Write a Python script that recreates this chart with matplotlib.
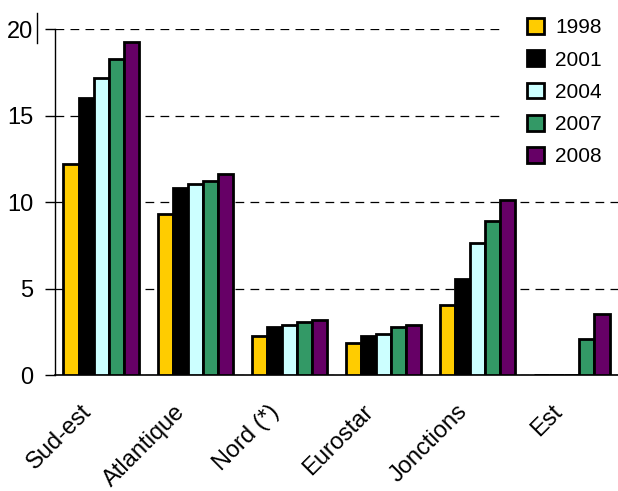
import matplotlib
matplotlib.use("Agg")
import matplotlib.pyplot as plt
import matplotlib.transforms as mtransforms
from matplotlib.lines import Line2D
from matplotlib.patches import Rectangle
import numpy as np

categories = ["Sud-est", "Atlantique", "Nord (*)", "Eurostar", "Jonctions", "Est"]
years = ["1998", "2001", "2004", "2007", "2008"]
values = {
    "1998": [12.2, 9.3, 2.25, 1.85, 4.05, 0.0],
    "2001": [16.0, 10.8, 2.8, 2.25, 5.55, 0.0],
    "2004": [17.2, 11.05, 2.9, 2.35, 7.65, 0.0],
    "2007": [18.3, 11.25, 3.05, 2.75, 8.9, 2.1],
    "2008": [19.25, 11.65, 3.2, 2.9, 10.1, 3.55],
}
colors = ["#FFCC00", "#000000", "#CCFFFF", "#339966", "#660066"]
yticks = [0, 5, 10, 15, 20]

plt.rcParams["font.family"] = ["Liberation Sans", "DejaVu Sans"]

fig = plt.figure(figsize=(6.18, 4.91), dpi=100)
ax = fig.add_axes([55 / 618, 1 - 375 / 491, 1 - 55 / 618, (375 - 29.3) / 491])

x = np.arange(len(categories))
w = 0.16
for i, (yr, c) in enumerate(zip(years, colors)):
    vals = values[yr]
    ax.bar(x + (i - 2) * w, vals, width=w, color=c, edgecolor="black",
           linewidth=2.0, label=yr, zorder=3)

ax.set_xlim(-0.49, 5.49)
ax.set_ylim(0, 20)
ax.set_yticks(yticks)
ax.set_yticklabels([str(t) for t in yticks], fontsize=17)
ax.tick_params(axis="y", length=7, width=1, pad=8.5, direction="out")
ax.tick_params(axis="x", length=0, pad=4)
ax.set_xticks(x)
ax.set_xticklabels(categories, fontsize=17, rotation=45, ha="right",
                   rotation_mode="anchor")
offset = mtransforms.ScaledTranslation(-21 / 100, -20 / 100, fig.dpi_scale_trans)
for lbl in ax.get_xticklabels():
    lbl.set_transform(lbl.get_transform() + offset)

for s in ["top", "right"]:
    ax.spines[s].set_visible(False)
ax.spines["left"].set_linewidth(1)
ax.spines["bottom"].set_linewidth(1.2)

ax.yaxis.grid(True, linestyle=(0, (7, 5)), color="black", linewidth=0.9, zorder=0)
ax.set_axisbelow(True)

# white area behind the legend
ax.add_patch(Rectangle((503 / 618, 1 - 175 / 491), 115 / 618, 170 / 491,
                       transform=fig.transFigure, facecolor="white",
                       edgecolor="none", zorder=1, clip_on=False))

leg = ax.legend(loc="upper left", bbox_to_anchor=(521 / 618, 1 - 12 / 491),
                bbox_transform=fig.transFigure, fontsize=15, frameon=False,
                handlelength=0.8, handleheight=0.8, handletextpad=0.55,
                labelspacing=0.62, borderpad=0.3, borderaxespad=0)
leg.set_zorder(5)

fig.add_artist(Line2D([37 / 618, 37 / 618], [1 - 13 / 491, 1 - 43 / 491],
                      color="black", linewidth=1, transform=fig.transFigure))

fig.savefig("out.png", dpi=100)
